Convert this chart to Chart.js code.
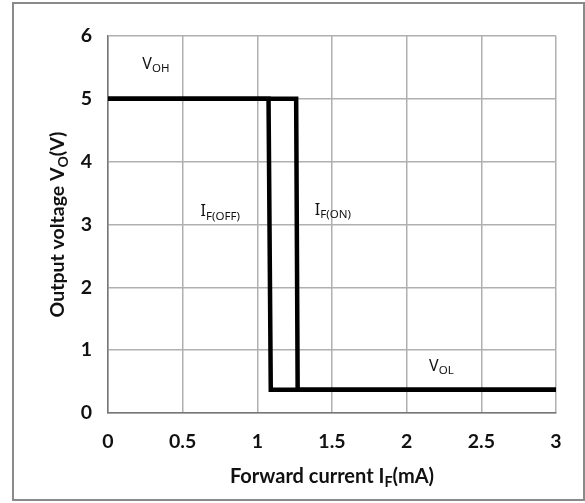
<!DOCTYPE html>
<html>
<head>
<meta charset="utf-8">
<script src="https://cdn.jsdelivr.net/npm/chart.js@4.4.1/dist/chart.umd.min.js"></script>
<style>
  html, body { margin: 0; padding: 0; background: #fff; }
  #wrap { position: relative; width: 585px; height: 503px; }
  #frame { position: absolute; left: 12px; top: 2px; width: 569px; height: 495px; border: 2px solid #8a8a8a; }
</style>
</head>
<body>
<div id="wrap">
  <div id="frame"></div>
  <canvas id="chart" width="585" height="503" style="position:absolute;left:0;top:0"></canvas>
</div>
<script>
// transfer curves, forward current (mA) vs output voltage (V)
const offCurrent = [0, 1.075, 1.09, 3];
const offVoltage = [5, 5, 0.37, 0.37];
const onCurrent = [0, 1.26, 1.27, 3];
const onVoltage = [5, 5, 0.37, 0.37];

const xTicks = [0, 0.5, 1, 1.5, 2, 2.5, 3];
const yTicks = [0, 1, 2, 3, 4, 5, 6];

// curve labels: [main, subscript, x, y]
const curveLabels = [
    ["V", "OH", 0.23, 5.55],
    ["I", "F(OFF)", 0.62, 3.2],
    ["I", "F(ON)", 1.385, 3.22],
    ["V", "OL", 2.15, 0.74]
];

function toPoints(xs, ys) {
    return xs.map((x, i) => ({ x: x, y: ys[i] }));
}

// draw text pieces, some of them as subscripts
function drawParts(ctx, parts, x, y, size, weight, family, align) {
    let widths = parts.map(p => {
        ctx.font = weight + " " + (p[1] ? size * 0.72 : size) + "px " + family;
        return ctx.measureText(p[0]).width;
    });
    let total = widths.reduce((a, b) => a + b, 0);
    let cx = align === "center" ? x - total / 2 : x;
    ctx.textAlign = "left";
    ctx.textBaseline = "middle";
    parts.forEach((p, i) => {
        ctx.font = weight + " " + (p[1] ? size * 0.72 : size) + "px " + family;
        ctx.fillText(p[0], cx, p[1] ? y + size * 0.28 : y);
        cx += widths[i];
    });
}

const textPlugin = {
    id: "texts",
    afterDraw(chart) {
        const ctx = chart.ctx;
        const xs = chart.scales.x, ys = chart.scales.y;
        const area = chart.chartArea;
        ctx.save();
        ctx.fillStyle = "#111";
        curveLabels.forEach(l => {
            drawParts(ctx, [[l[0], false], [l[1], true]],
                xs.getPixelForValue(l[2]), ys.getPixelForValue(l[3]),
                16, "normal", "'Noto Sans'", "left");
        });
        // axis titles
        const midX = (area.left + area.right) / 2;
        drawParts(ctx, [["Forward current I", false], ["F", true], ["(mA)", false]],
            midX, 477, 20, "bold", "Lato", "center");
        ctx.translate(58, (area.top + area.bottom) / 2);
        ctx.rotate(-Math.PI / 2);
        drawParts(ctx, [["Output voltage V", false], ["O", true], ["(V)", false]],
            0, 0, 19.5, "bold", "Lato", "center");
        ctx.restore();
    }
};

new Chart(document.getElementById("chart"), {
    type: "scatter",
    data: {
        datasets: [
            {
                label: "IF(OFF)",
                data: toPoints(offCurrent, offVoltage),
                showLine: true,
                borderColor: "#000",
                borderWidth: 4.5,
                borderJoinStyle: "miter",
                pointRadius: 0
            },
            {
                label: "IF(ON)",
                data: toPoints(onCurrent, onVoltage),
                showLine: true,
                borderColor: "#000",
                borderWidth: 4.5,
                borderJoinStyle: "miter",
                pointRadius: 0
            }
        ]
    },
    options: {
        responsive: false,
        animation: false,
        layout: { padding: { left: 0, right: 29, top: 36, bottom: 0 } },
        plugins: {
            legend: { display: false },
            tooltip: { enabled: false }
        },
        scales: {
            x: {
                type: "linear",
                min: 0,
                max: 3,
                afterBuildTicks: scale => { scale.ticks = xTicks.map(v => ({ value: v })); },
                afterFit: scale => { scale.height = 90; },
                grid: { color: "#b0b0b0", lineWidth: 1.5, drawTicks: false },
                border: { color: "#777", width: 1.5 },
                ticks: {
                    color: "#111",
                    padding: 17,
                    font: { family: "Lato", size: 19.5, weight: "bold" },
                    callback: v => String(v)
                }
            },
            y: {
                min: 0,
                max: 6,
                afterBuildTicks: scale => { scale.ticks = yTicks.map(v => ({ value: v })); },
                afterFit: scale => { scale.width = 108; },
                grid: { color: "#b0b0b0", lineWidth: 1.5, drawTicks: false },
                border: { color: "#777", width: 1.5 },
                ticks: {
                    color: "#111",
                    padding: 16,
                    font: { family: "Lato", size: 19.5, weight: "bold" },
                    callback: v => String(v)
                }
            }
        }
    },
    plugins: [textPlugin]
});
</script>
</body>
</html>
